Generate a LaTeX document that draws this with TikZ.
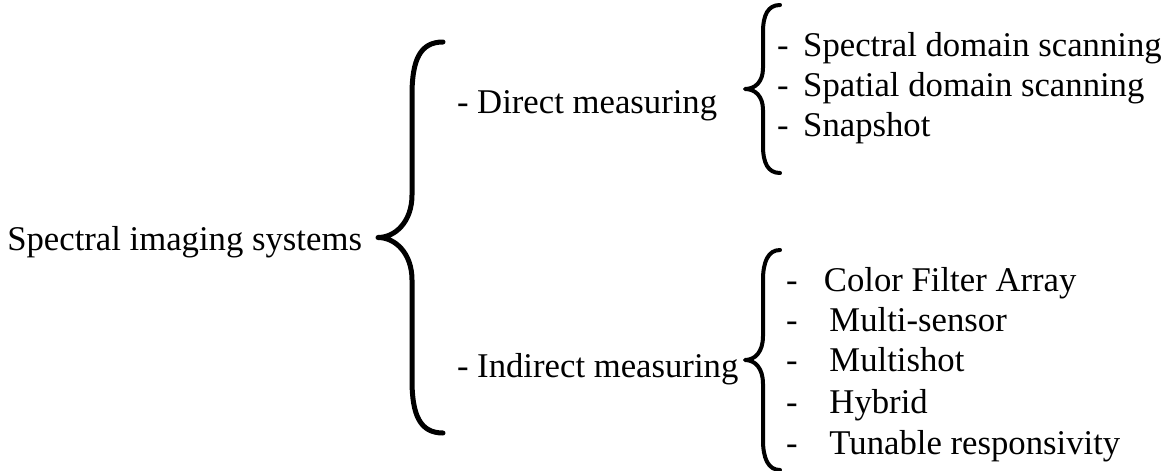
\documentclass[tikz,border=0pt]{standalone}
\usepackage{fontspec}
\setmainfont{Liberation Serif}
\begin{document}
\begin{tikzpicture}[x=1pt,y=-1pt,
  lbl/.style={anchor=base west,inner sep=0pt,outer sep=0pt,
    font=\fontsize{34.7}{40}\selectfont},
  bigbrace/.style={line width=5pt,line cap=round,line join=round},
  smallbrace/.style={line width=4pt,line cap=round,line join=round}]
\useasboundingbox (0,0) rectangle (1167,471);

% root label
\node[lbl] (root) at (7.3,250) {Spectral imaging systems};

% main brace
\draw[bigbrace] (443,42) .. controls (420,42) and (412,60) .. (412,95)
  -- (412,195) .. controls (412,222) and (395,237.5) .. (378,237.5)
  .. controls (395,237.5) and (412,253) .. (412,280)
  -- (412,380) .. controls (412,415) and (420,433) .. (443,433);

% second level
\node[lbl] (direct) at (457,113) {- Direct measuring};
\node[lbl] (indirect) at (457,377) {- Indirect measuring};

% brace for direct measuring
\draw[smallbrace] (780,5) .. controls (768,5) and (763,15) .. (763,32)
  -- (763,68) .. controls (763,82) and (755,89) .. (745,89)
  .. controls (755,89) and (763,96) .. (763,110)
  -- (763,146) .. controls (763,163) and (768,173) .. (780,173);

\node[lbl] (d1) at (777,56) {-\hspace{14.7pt}Spectral domain scanning};
\node[lbl] (d2) at (777,96) {-\hspace{14.7pt}Spatial domain scanning};
\node[lbl] (d3) at (777,136) {-\hspace{14.7pt}Snapshot};

% brace for indirect measuring
\draw[smallbrace] (780,250) .. controls (768,250) and (763,262) .. (763,280)
  -- (763,336) .. controls (763,352) and (755,360) .. (745,360)
  .. controls (755,360) and (763,368) .. (763,384)
  -- (763,440) .. controls (763,458) and (768,470) .. (780,470);

\node[lbl] (i1) at (786,291) {-\hspace{26.4pt}Color Filter Array};
\node[lbl] (i2) at (786,331) {-\hspace{31.9pt}Multi-sensor};
\node[lbl] (i3) at (786,371) {-\hspace{31.9pt}Multishot};
\node[lbl] (i4) at (786,413) {-\hspace{31.9pt}Hybrid};
\node[lbl] (i5) at (786,454) {-\hspace{31.9pt}Tunable responsivity};
\end{tikzpicture}
\end{document}
